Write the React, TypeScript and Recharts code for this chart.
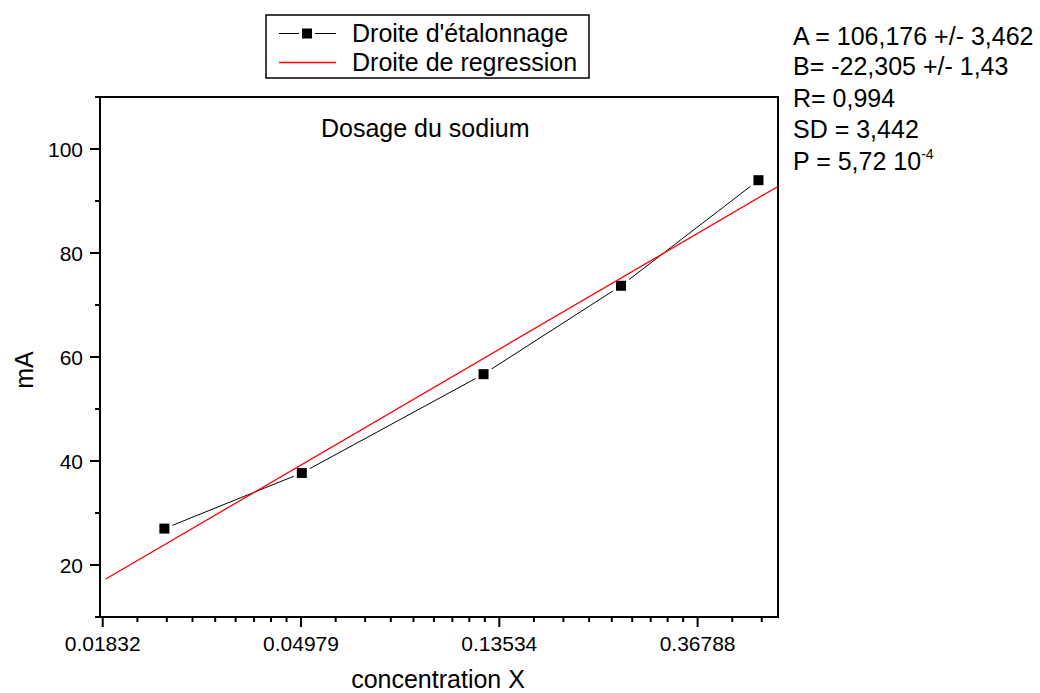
import React from 'react';
import { ScatterChart, Scatter, XAxis, YAxis, ReferenceArea } from 'recharts';

// ---- data ----
const CONCENTRATION = [0.025, 0.05, 0.125, 0.25, 0.5];
const MA_VALUES = [27.0, 37.7, 56.7, 73.7, 94.0];
const REG_X = [0.0186, 0.5518];
const REG_Y = [17.3, 92.8];

const X_MAJOR_TICKS = [0.01832, 0.04979, 0.13534, 0.36788];
const X_TICK_LABELS = ['0.01832', '0.04979', '0.13534', '0.36788'];
const X_MINOR_TICKS = [
  0.02182, 0.02531, 0.02881, 0.0323, 0.0358, 0.0393, 0.0428, 0.04629,
  0.0593, 0.0688, 0.07831, 0.08781, 0.09732, 0.10682, 0.11633, 0.12583,
  0.16118, 0.18702, 0.21285, 0.23869, 0.26453, 0.29037, 0.31621, 0.34204,
  0.43812, 0.50836,
];
const Y_MAJOR_TICKS = [20, 40, 60, 80, 100];
const Y_MINOR_TICKS = [10, 30, 50, 70, 90, 110];
const X_DOMAIN = [0.01807, 0.5518];
const Y_DOMAIN = [10, 110];

const STATS = ['A = 106,176 +/- 3,462', 'B= -22,305 +/- 1,43', 'R= 0,994', 'SD = 3,442'];
const LEGEND_LABELS = ["Droite d'étalonnage", 'Droite de regression'];

const calData = CONCENTRATION.map((x, i) => ({ x, y: MA_VALUES[i] }));
const regData = REG_X.map((x, i) => ({ x, y: REG_Y[i] }));
const xTicks = [...X_MAJOR_TICKS, ...X_MINOR_TICKS].sort((a, b) => a - b);
const yTicks = [...Y_MAJOR_TICKS, ...Y_MINOR_TICKS].sort((a, b) => a - b);

const FONT = '"Liberation Sans", Arial, Helvetica, sans-serif';

const XTick = (props: any) => {
  const { x, y, payload } = props;
  const idx = X_MAJOR_TICKS.indexOf(payload.value);
  if (idx >= 0) {
    return (
      <g>
        <line x1={x} y1={y} x2={x} y2={y + 10} stroke="#000" strokeWidth={2} />
        <text x={x} y={y + 34} textAnchor="middle" fontSize={21} fontFamily={FONT} fill="#000">
          {X_TICK_LABELS[idx]}
        </text>
      </g>
    );
  }
  return <line x1={x} y1={y} x2={x} y2={y + 5} stroke="#000" strokeWidth={2} />;
};

const YTick = (props: any) => {
  const { x, y, payload } = props;
  const major = Y_MAJOR_TICKS.indexOf(payload.value) >= 0;
  if (major) {
    return (
      <g>
        <line x1={x - 10} y1={y} x2={x} y2={y} stroke="#000" strokeWidth={2} />
        <text x={x - 17} y={y + 7.5} textAnchor="end" fontSize={21} fontFamily={FONT} fill="#000">
          {String(payload.value)}
        </text>
      </g>
    );
  }
  return <line x1={x - 5} y1={y} x2={x} y2={y} stroke="#000" strokeWidth={2} />;
};

const SquareDot = (props: any) => {
  const { cx, cy } = props;
  if (cx == null || cy == null) return <g />;
  return (
    <g>
      <rect x={cx - 8} y={cy - 8} width={16} height={16} fill="#fff" />
      <rect x={cx - 5} y={cy - 5} width={10} height={10} fill="#000" />
    </g>
  );
};

const NoDot = () => <g />;

export default function App() {
  return (
    <div style={{ position: 'absolute', left: 0, top: 0, width: 1040, height: 693, background: '#fff' }}>
      <ScatterChart width={1040} height={693} margin={{ top: 97, right: 262, bottom: 6, left: 10 }}>
        <XAxis
          type="number"
          dataKey="x"
          scale="log"
          domain={X_DOMAIN}
          ticks={xTicks}
          interval={0}
          tick={<XTick />}
          tickLine={false}
          tickSize={0}
          tickMargin={0}
          height={70}
          axisLine={{ stroke: '#000', strokeWidth: 2 }}
          allowDataOverflow
        />
        <YAxis
          type="number"
          dataKey="y"
          domain={Y_DOMAIN}
          ticks={yTicks}
          interval={0}
          tick={<YTick />}
          tickLine={false}
          tickSize={0}
          tickMargin={0}
          width={90}
          axisLine={{ stroke: '#000', strokeWidth: 2 }}
          allowDataOverflow
        />
        <ReferenceArea
          x1={X_DOMAIN[0]}
          x2={X_DOMAIN[1]}
          y1={Y_DOMAIN[0]}
          y2={Y_DOMAIN[1]}
          fill="none"
          fillOpacity={0}
          stroke="#000"
          strokeWidth={2}
          ifOverflow="visible"
        />
        <Scatter
          data={calData}
          line={{ stroke: '#000', strokeWidth: 1 }}
          lineType="joint"
          shape={<SquareDot />}
          isAnimationActive={false}
        />
        <Scatter
          data={regData}
          line={{ stroke: '#ff0000', strokeWidth: 1.3 }}
          lineType="joint"
          shape={<NoDot />}
          isAnimationActive={false}
        />
      </ScatterChart>
      <svg
        width={1040}
        height={693}
        style={{ position: 'absolute', left: 0, top: 0, pointerEvents: 'none' }}
        fontFamily={FONT}
      >
        {/* legend */}
        <rect x={266} y={15} width={323} height={63} fill="#fff" stroke="#000" strokeWidth={1.5} />
        <line x1={279} y1={33.5} x2={336} y2={33.5} stroke="#000" strokeWidth={1} />
        <rect x={299} y={26.5} width={16} height={14} fill="#fff" />
        <rect x={302} y={28.5} width={10} height={10} fill="#000" />
        <text x={352} y={42} fontSize={25} fill="#000">{LEGEND_LABELS[0]}</text>
        <line x1={279} y1={62.5} x2={336} y2={62.5} stroke="#ff0000" strokeWidth={1.3} />
        <text x={352} y={71} fontSize={25} fill="#000">{LEGEND_LABELS[1]}</text>

        {/* title */}
        <text x={321} y={137} fontSize={25} fill="#000">Dosage du sodium</text>

        {/* stats */}
        {STATS.map((s, i) => (
          <text key={i} x={793} y={[45, 75, 107, 138][i]} fontSize={25} fill="#000">{s}</text>
        ))}
        <text x={793} y={170} fontSize={25} fill="#000">
          P = 5,72 10<tspan fontSize={14} dy={-11}>-4</tspan>
        </text>

        {/* axis titles */}
        <text x={438} y={688} fontSize={25} textAnchor="middle" fill="#000">concentration X</text>
        <text
          x={33}
          y={370}
          fontSize={25}
          textAnchor="middle"
          fill="#000"
          transform="rotate(-90 33 370)"
        >
          mA
        </text>
      </svg>
    </div>
  );
}
